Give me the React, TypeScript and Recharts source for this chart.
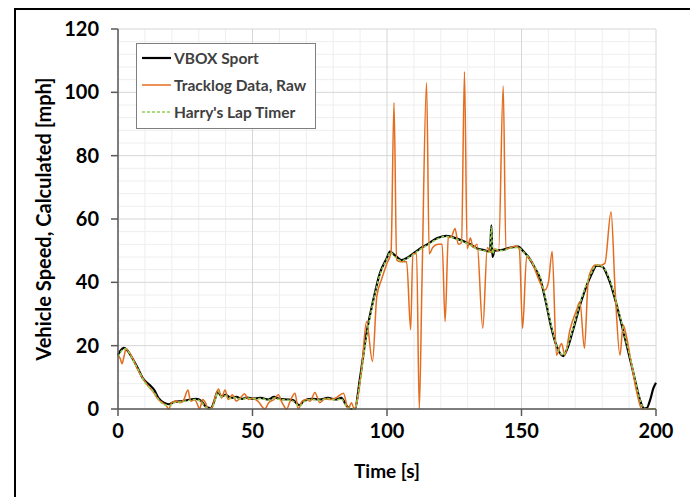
import {
  LineChart,
  Line,
  XAxis,
  YAxis,
  CartesianGrid,
  Label,
} from "recharts";

// [time s, speed mph]
const vboxSport: [number, number][] = [
  [0, 17], [1, 18.5], [2.2, 19.3], [3.5, 18.5], [5, 16.5], [7, 13.5], [9.4, 9.5],
  [11.9, 7.5], [13.5, 6], [15, 3.5], [17, 2], [19, 1.5], [21, 2.3], [24, 2.5],
  [27, 3], [29, 3.2], [31, 2.5], [33, 0.5], [34.5, 0.3], [36, 3], [37, 5.5],
  [38.5, 4], [40, 4.5], [42, 3.5], [44, 3.8], [46, 3.2], [48, 3.6], [50, 3.3],
  [53, 3.5], [56, 3], [58, 3.8], [60, 3.2], [63, 3], [65, 2.8], [67.5, 1.2],
  [69, 2.5], [72, 3.2], [75, 3], [78, 3.5], [81, 3], [83, 3.5], [85, 1],
  [86.5, 0], [88, 0], [90, 10], [92.4, 24], [94.9, 34.4], [97.4, 43], [99.9, 47.6],
  [101.1, 49.7], [103, 48.5], [105.5, 47], [108, 48], [112, 50.5], [115, 52],
  [118.5, 53.9], [122, 54.7], [126, 53.8], [129, 52.8], [131, 52], [133.3, 50.8],
  [136, 50.2], [138.3, 49.7], [138.8, 58], [139.2, 48], [140, 50], [143, 50.3],
  [146, 51], [148.8, 51.3], [150.5, 50], [153, 47.5], [155, 44.5], [157, 41],
  [159, 34], [161, 26], [163, 20], [165.5, 16.7], [167, 19], [169, 24.5],
  [172, 33.5], [174, 38.5], [176, 42.5], [178, 45.3], [180, 45], [182, 42],
  [183.5, 38.5], [185, 34], [187, 27.5], [189, 20.5], [191, 13.5], [192.5, 8],
  [194, 3], [195.5, 0.3], [196.5, 0.3], [197.8, 2.8], [199, 6.5], [200, 8.3],
];

const tracklogRaw: [number, number][] = [
  [0, 17], [0.8, 16], [1.5, 14.3], [2.2, 16.5], [3, 19], [4, 18], [5.5, 16],
  [7, 13], [9, 10], [11, 7.5], [13, 5.5], [15, 3], [16.5, 2], [18, 1], [18.8, 0],
  [20, 2], [21.5, 2.5], [23, 2], [24.5, 3], [26, 6], [27, 2.5], [28.5, 3],
  [29.5, 1.5], [30.3, 0], [31.5, 3], [32.5, 2], [33.5, 0], [35, 0.5], [36, 3.5],
  [37.4, 6.3], [38.5, 3.5], [39.8, 6], [41, 3], [42.5, 4.5], [44, 2.5],
  [45.5, 3.5], [47, 4.8], [48.5, 3], [50, 3.4], [52, 2.5], [54.6, 0], [56, 2],
  [58, 3], [59.6, 4.5], [61, 2], [62.7, 0], [64, 2.5], [65.8, 5], [67, 0],
  [68.5, 2.5], [70, 3], [71.5, 2.5], [73.2, 5.2], [75, 2], [77, 3.2], [79, 3],
  [81, 3.5], [83.8, 5], [85.6, 0], [86.8, 2], [87.8, 0], [89, 3], [90.5, 12],
  [92.4, 27.6], [94.6, 15], [96.2, 35.5], [98, 41], [100, 46], [101.5, 49.5],
  [102.6, 96.7], [103.6, 47], [105, 46.5], [107.3, 46.5], [108.8, 25],
  [109.6, 49], [111, 49], [112, 0], [113, 40], [114.7, 103], [115.7, 49],
  [117, 51], [119, 52], [120.5, 52], [121.6, 27.6], [122.8, 54], [124, 54.5],
  [125.3, 57], [126.5, 52], [127.7, 52.5], [128.8, 106.5], [129.8, 50.6],
  [131, 54], [132, 51], [133.5, 52], [135.6, 25.5], [137.3, 51], [138.5, 49.5],
  [140, 50.5], [141.5, 50], [143.2, 102], [144.2, 50.5], [146, 51], [148, 51.5],
  [149.2, 50.5], [150.4, 25.5], [151.9, 48], [153.5, 47], [155, 44], [157, 39.7],
  [158.7, 37.6], [160, 40], [161.4, 49.7], [163, 17], [164.9, 20.7], [166.1, 17],
  [168, 25], [170.5, 31.3], [171.7, 33.9], [173.4, 19.2], [174.8, 40.7],
  [176, 44], [177.5, 45.5], [179, 45.3], [181, 46], [183.3, 62.3], [184.8, 37.6],
  [186.6, 17], [187.8, 26.5], [189, 23], [190.5, 16], [192.8, 5.5], [194.7, 0],
  [197, 0], [199.5, 0],
];

const harrysLapTimer: [number, number][] = [
  [0, 16.5], [1, 18], [2.5, 19], [4, 18], [5.5, 15.5], [7.5, 12.5], [9.5, 9],
  [12, 6.5], [14, 4.5], [15.5, 2.5], [17, 1.5], [19, 1], [21, 2], [24, 2.3],
  [27, 2.8], [29, 3], [31, 2.2], [33, 0.3], [34.5, 0], [36, 2.5], [37.2, 5.5],
  [38.5, 3.8], [40, 4.2], [42, 3.3], [44, 3.6], [46, 3], [48, 3.5], [50, 3.2],
  [53, 3.3], [56, 2.8], [58, 3.5], [60, 3], [63, 2.8], [65, 2.5], [67.5, 0.8],
  [69, 2.2], [72, 3], [75, 2.8], [78, 3.3], [81, 2.8], [83, 3.2], [85, 0.8],
  [86.5, 0], [88, 0], [90, 9], [92.4, 23], [94.9, 34], [97.4, 42.5], [99.9, 47.3],
  [101.3, 49.5], [103, 48], [105.5, 46.8], [108, 47.8], [112, 50.2], [115, 51.8],
  [118.5, 53.6], [122, 54.5], [126, 53.6], [129, 52.6], [131, 51.8],
  [133.3, 50.6], [136, 50], [138.3, 49.5], [138.8, 57.5], [139.3, 49],
  [140, 50.5], [143, 50], [146, 50.8], [148.8, 51], [150.5, 49.8], [153, 47.5],
  [155, 44.8], [157, 41.5], [159, 34.5], [161, 26.5], [163, 20], [165.5, 17],
  [167, 19.5], [169, 25], [172, 34], [174, 39], [176, 43], [178, 45.5],
  [180, 45], [182, 42.5], [183.5, 39], [185, 34.5], [187, 28], [189, 21],
  [191, 14], [192.5, 8.5], [194, 3], [195.5, 0.3], [197, 0], [200, 0],
];

const X_MAX = 200;
const Y_MAX = 120;
const xTicks = [0, 50, 100, 150, 200];
const yTicks = [0, 20, 40, 60, 80, 100, 120];
const xMinor = [10, 20, 30, 40, 60, 70, 80, 90, 110, 120, 130, 140, 160, 170, 180, 190];
const yMinor = [4, 8, 12, 16, 24, 28, 32, 36, 44, 48, 52, 56, 64, 68, 72, 76, 84, 88, 92, 96, 104, 108, 112, 116];

const toRows = (pts: [number, number][]) => pts.map(([t, v]) => ({ t, v }));

const FONT = "Lato, 'Open Sans', sans-serif";

const legendItems = [
  { name: "VBOX Sport", color: "#000000", dash: undefined, width: 2.2 },
  { name: "Tracklog Data, Raw", color: "#E46C1E", dash: undefined, width: 1.5 },
  { name: "Harry's Lap Timer", color: "#92D050", dash: "3 2", width: 1.5 },
];

function LegendBox() {
  return (
    <div
      style={{
        position: "absolute",
        left: 120,
        top: 33,
        width: 180,
        height: 86,
        border: "1.5px solid #7f7f7f",
        background: "#fff",
        boxSizing: "border-box",
        fontFamily: FONT,
      }}
    >
      {legendItems.map((it) => (
        <div key={it.name} style={{ height: 27, display: "flex", alignItems: "center" }}>
          <svg width={34} height={10} style={{ marginLeft: 3 }}>
            <line
              x1={2}
              x2={31}
              y1={5}
              y2={5}
              stroke={it.color}
              strokeWidth={it.width}
              strokeDasharray={it.dash}
            />
          </svg>
          <span style={{ fontSize: 15.5, fontWeight: 700, color: "#404040" }}>{it.name}</span>
        </div>
      ))}
    </div>
  );
}

// minor grid positions, mapped through the plot offset
const minorH = ({ offset }: any) =>
  yMinor.map((v) => offset.top + offset.height * (1 - v / Y_MAX));
const minorV = ({ offset }: any) =>
  xMinor.map((t) => offset.left + (offset.width * t) / X_MAX);

export default function App() {
  return (
    <div
      style={{
        position: "relative",
        marginLeft: 6,
        width: 680,
        height: 497,
        border: "2px solid #000",
        boxSizing: "border-box",
        background: "#fff",
        fontFamily: FONT,
      }}
    >
      <LineChart
        width={676}
        height={493}
        margin={{ top: 19, right: 36, left: 20, bottom: 19 }}
      >
        <CartesianGrid
          stroke="#eeeeee"
          strokeWidth={1}
          horizontalCoordinatesGenerator={minorH}
          verticalCoordinatesGenerator={minorV}
        />
        <CartesianGrid stroke="#d6d6d6" strokeWidth={1} />
        <XAxis
          type="number"
          dataKey="t"
          domain={[0, X_MAX]}
          ticks={xTicks}
          height={75}
          tickSize={7}
          tickMargin={8}
          stroke="#595959"
          strokeWidth={1.5}
          tick={{ fill: "#000", fontSize: 20, fontWeight: 700, fontFamily: FONT }}
          allowDuplicatedCategory={false}
        >
          <Label
            value="Time [s]"
            position="insideBottom"
            offset={6}
            style={{ fill: "#000", fontSize: 19, fontWeight: 700, fontFamily: FONT }}
          />
        </XAxis>
        <YAxis
          type="number"
          domain={[0, Y_MAX]}
          ticks={yTicks}
          width={82}
          tickSize={7}
          tickMargin={12}
          stroke="#595959"
          strokeWidth={1.5}
          tick={{ fill: "#000", fontSize: 20, fontWeight: 700, fontFamily: FONT }}
        >
          <Label
            value="Vehicle Speed, Calculated [mph]"
            angle={-90}
            position="insideLeft"
            offset={8}
            style={{ textAnchor: "middle", fill: "#000", fontSize: 20, fontWeight: 700, fontFamily: FONT }}
          />
        </YAxis>
        <Line
          data={toRows(vboxSport)}
          dataKey="v"
          name="VBOX Sport"
          type="monotone"
          stroke="#000000"
          strokeWidth={2.2}
          dot={false}
          isAnimationActive={false}
        />
        <Line
          data={toRows(tracklogRaw)}
          dataKey="v"
          name="Tracklog Data, Raw"
          type="monotone"
          stroke="#E46C1E"
          strokeWidth={1.5}
          dot={false}
          isAnimationActive={false}
        />
        <Line
          data={toRows(harrysLapTimer)}
          dataKey="v"
          name="Harry's Lap Timer"
          type="monotone"
          stroke="#92D050"
          strokeWidth={1.5}
          strokeDasharray="3 2"
          dot={false}
          isAnimationActive={false}
        />
      </LineChart>
      <LegendBox />
    </div>
  );
}
